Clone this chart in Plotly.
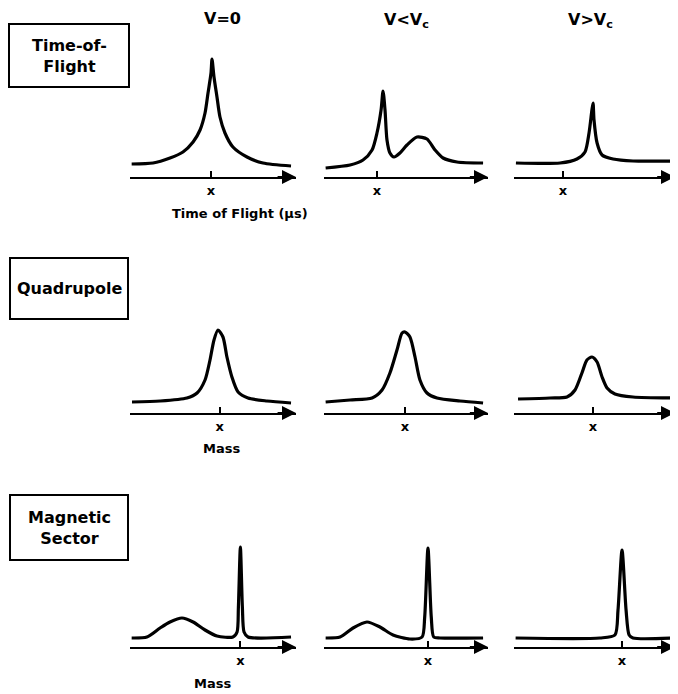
import plotly.graph_objects as go

# The page body has an 8px margin, so the figure is made 8px smaller than the
# window on each axis and all layout pixel positions are shifted by that offset.
WIN_W, WIN_H = 678, 694
OFF = 8
W, H = WIN_W - OFF, WIN_H - OFF

# ---------------- data (x: % along axis, y: signal height) ----------------
column_headers = ["V=0", "V&lt;V<sub>c</sub>", "V&gt;V<sub>c</sub>"]
row_labels = ["Time-of-<br>Flight", "Quadrupole", "Magnetic<br>Sector"]
axis_titles = ["Time of Flight (\u03bcs)", "Mass", "Mass"]
tick_text = "x"

# Time-of-flight
tof_v0_x = [1, 13.9, 24.1, 31.9, 38.0, 42.2, 45.2, 47.0, 48.8, 49.4, 50.6, 52.4, 54.2, 57.2, 62.0, 70.5, 80.1, 97]
tof_v0_y = [13, 14, 19, 25, 35, 47, 64, 84, 104, 118, 100, 80, 60, 44, 30, 20, 14, 11]
tof_lo_x = [1, 15.9, 23.8, 29.3, 32.3, 34.8, 36.0, 37.2, 38.4, 40.2, 42.7, 46.3, 50.6, 56.7, 62.8, 67.7, 72.6, 81.1, 97]
tof_lo_y = [9, 12, 17, 27, 44, 67, 86, 67, 37, 24, 20, 24, 32, 40, 38, 27, 19, 15, 14]
tof_hi_x = [1.2, 28.6, 39.1, 44.1, 46.6, 48.4, 49.1, 49.7, 51.6, 54.7, 61.5, 73.9, 99]
tof_hi_y = [14, 14, 18, 25, 44, 67, 74, 57, 34, 22, 18, 16, 16]

# Quadrupole
quad_v0_x = [1.2, 18.1, 34.3, 40.4, 45.2, 48.2, 50.6, 53.0, 56.0, 58.4, 61.4, 65.1, 71.1, 82.5, 97]
quad_v0_y = [11, 12, 15, 20, 33, 53, 73, 83, 76, 56, 36, 21, 15, 12, 10]
quad_lo_x = [1, 15.9, 29.3, 35.4, 40.2, 44.5, 47.6, 49.4, 52.4, 55.5, 58.5, 62.8, 68.9, 82.9, 97]
quad_lo_y = [11, 13, 15, 23, 40, 63, 80, 81, 76, 56, 33, 20, 15, 12, 10]
quad_hi_x = [2.5, 22.4, 32.9, 37.9, 42.2, 45.3, 48.4, 51.6, 54.7, 57.8, 62.7, 73.9, 98.8]
quad_hi_y = [14, 15, 16, 23, 40, 53, 56, 51, 36, 25, 19, 16, 15]

# Magnetic sector
mag_v0_x = [1, 10.2, 18.1, 24.1, 31.3, 38.0, 45.2, 52.4, 62.0, 64.5, 65.3, 66.5, 67.7, 68.7, 71.1, 97]
mag_v0_y = [9, 10, 19, 25, 29, 25, 17, 11, 10, 15, 40, 100, 40, 15, 10, 10]
mag_lo_x = [1, 9.8, 17.7, 26.2, 34.1, 42.1, 52.4, 59.8, 61.4, 63.4, 65.4, 66.9, 70.7, 97]
mag_lo_y = [9, 10, 19, 25, 20, 12, 8, 10, 30, 99, 30, 10, 9, 9]
mag_hi_x = [1, 53.4, 62.7, 64.6, 67.1, 69.6, 71.5, 73.9, 99]
mag_hi_y = [9, 9, 12, 37, 97, 37, 12, 9, 9]

panels = [
    [(tof_v0_x, tof_v0_y, 48.8), (tof_lo_x, tof_lo_y, 32.3), (tof_hi_x, tof_hi_y, 30.4)],
    [(quad_v0_x, quad_v0_y, 54.0), (quad_lo_x, quad_lo_y, 49.4), (quad_hi_x, quad_hi_y, 49.1)],
    [(mag_v0_x, mag_v0_y, 66.5), (mag_lo_x, mag_lo_y, 63.4), (mag_hi_x, mag_hi_y, 67.1)],
]

# ---------------- layout geometry (window pixels) ----------------
col_px = [(130, 296), (324, 488), (514, 675)]
row_axis_px = [177, 413, 647]
panel_h = 130
header_pos = [(222, 18), (406, 20), (590, 20)]
box_px = [(9, 24, 129, 87), (10, 258, 128, 319), (10, 495, 128, 560)]
title_pos = [(240, 213), (221, 448), (212, 683)]

FONT = "DejaVu Sans"


def px(x):
    return (x - OFF) / W


def py(y):
    return 1 - (y - OFF) / H


fig = go.Figure()
layout = dict(
    width=W, height=H, margin=dict(l=0, r=0, t=0, b=0),
    paper_bgcolor="white", plot_bgcolor="rgba(0,0,0,0)",
    showlegend=False, annotations=[], shapes=[],
)

k = 0
for r in range(3):
    for c in range(3):
        k += 1
        xs, ys, tick = panels[r][c]
        xa = "x" if k == 1 else f"x{k}"
        ya = "y" if k == 1 else f"y{k}"
        fig.add_trace(go.Scatter(
            x=xs, y=ys, mode="lines", xaxis=xa, yaxis=ya,
            line=dict(color="black", width=3.2, shape="spline", smoothing=0.7),
            hoverinfo="skip", cliponaxis=False,
        ))
        x0, x1 = col_px[c]
        yb = row_axis_px[r]
        layout[f"xaxis{'' if k == 1 else k}"] = dict(
            domain=[px(x0), px(x1)], range=[0, 100], anchor=ya,
            showgrid=False, zeroline=False, showline=True, linecolor="black",
            linewidth=2, ticks="inside", ticklen=6, tickwidth=2, tickcolor="black",
            tickvals=[tick], ticktext=[tick_text],
            tickfont=dict(family=FONT, size=13, color="black", weight="bold"),
            fixedrange=True,
        )
        layout[f"yaxis{'' if k == 1 else k}"] = dict(
            domain=[py(yb), py(yb - panel_h)], range=[0, panel_h], anchor=xa,
            visible=False, fixedrange=True,
        )
        layout["annotations"].append(dict(
            x=100, y=0, ax=88, ay=0, xref=xa, yref=ya, axref=xa, ayref=ya,
            text="", showarrow=True, arrowhead=2, arrowsize=1.4, arrowwidth=2,
            arrowcolor="black", standoff=0,
        ))

for (hx, hy), txt in zip(header_pos, column_headers):
    layout["annotations"].append(dict(
        x=px(hx), y=py(hy), xref="paper", yref="paper", text=txt, showarrow=False,
        font=dict(family=FONT, size=16, color="black", weight="bold"),
        xanchor="center", yanchor="middle",
    ))

for (bx0, by0, bx1, by1), txt in zip(box_px, row_labels):
    layout["shapes"].append(dict(
        type="rect", xref="paper", yref="paper",
        x0=px(bx0), x1=px(bx1), y0=py(by1), y1=py(by0),
        line=dict(color="black", width=2),
    ))
    layout["annotations"].append(dict(
        x=px((bx0 + bx1) / 2), y=py((by0 + by1) / 2), xref="paper", yref="paper",
        text=txt, showarrow=False, align="center",
        font=dict(family=FONT, size=16, color="black", weight="bold"),
        xanchor="center", yanchor="middle",
    ))

for (tx, ty), txt in zip(title_pos, axis_titles):
    layout["annotations"].append(dict(
        x=px(tx), y=py(ty), xref="paper", yref="paper", text=txt, showarrow=False,
        font=dict(family=FONT, size=13, color="black", weight="bold"),
        xanchor="center", yanchor="middle",
    ))

fig.update_layout(**layout)
fig.write_html("out.html")
